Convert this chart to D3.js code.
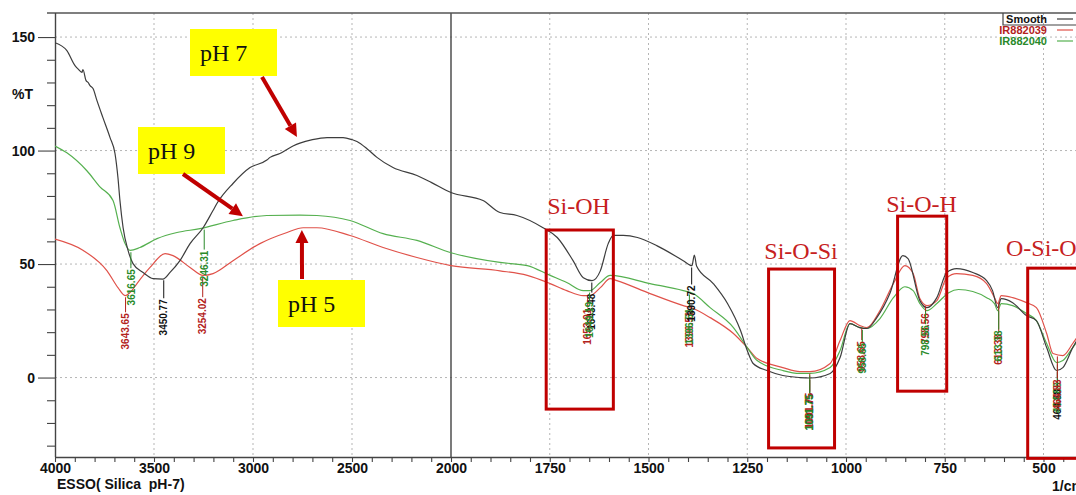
<!DOCTYPE html>
<html><head><meta charset="utf-8">
<script src="https://cdn.jsdelivr.net/npm/d3@7"></script>
<style>
html,body{margin:0;padding:0;background:#fff;}
svg{display:block;}
</style></head><body>
<svg id="chart" width="1076" height="495"></svg>
<script>
// ---------------- DATA ----------------
const seriesNames = ["Smooth", "IR882039", "IR882040"];

// pH 7 (black, "Smooth") : [wavenumber, %T]
const smoothData = [
  [4000,147.5],[3940,144],[3899,137.4],[3884,136],[3864,134.4],[3859,135.7],[3843,130.8],[3833,130],
  [3823,128.6],[3808,127.3],[3788,122],[3758,114.5],[3722,105.7],[3697,98.7],[3682,88],[3672,78],
  [3656,66],[3631,56],[3606,50.2],[3555,46.3],[3505,43.6],[3455,43.4],[3419,46.3],[3369,51.5],
  [3318,59],[3252,66],[3202,73.6],[3180,77],[3101,85.5],[3015,92.5],[2930,95.8],[2914,97],
  [2864,98.7],[2798,102],[2763,103.3],[2700,104.8],[2626,105.7],[2545,105.7],[2500,104.8],
  [2475,104],[2420,100.5],[2374,97],[2293,92.5],[2172,89],[2100,86],[2000,81.5],
  [1919,78],[1876,72.7],[1833,71.4],[1767,66],[1731,61.7],[1691,51.5],[1665,44],[1643,42.7],
  [1622,47],[1602,59],[1589,62.6],[1564,62.6],[1528,61.7],[1478,58],[1412,51.5],[1390,49.3],
  [1384,54],[1378,49],[1336,41.4],[1300,32.6],[1267,20.7],[1250,11.9],[1235,6.2],[1200,3.1],
  [1160,0.9],[1117,0],[1091,-0.2],[1040,1.8],[1015,8.8],[990,23.8],[965,22],[947,21.6],
  [922,26.4],[889,37],[856,53.7],[843,52.4],[813,33.9],[795,30.8],[770,35.2],[745,46.3],
  [720,48],[679,46.3],[644,42.7],[629,38.3],[616,30.8],[607,34.8],[578,33],[543,27.3],
  [518,25.1],[492,13.2],[467,3.1],[451,4.4],[426,13.2],[410,18]
];

// pH 5 (red, IR882039)
const ir882039Data = [
  [4000,61],[3857,56],[3737,47],[3682,39.6],[3646,36.1],[3615,38],[3586,41.4],[3520,48.5],
  [3444,54.6],[3404,53.7],[3318,48.5],[3252,45],[3202,45.8],[3101,51.5],[2965,59],[2828,63.9],
  [2747,66],[2677,66],[2510,62.6],[2343,57.3],[2172,52.9],[2000,49.3],[1876,47],[1807,45],
  [1749,41.4],[1707,38.3],[1665,36.1],[1648,36.1],[1622,39.6],[1597,43.6],[1580,42.7],
  [1496,37],[1412,31.7],[1387,30.4],[1344,26.4],[1285,19.4],[1250,13.2],[1225,8.4],
  [1160,4.4],[1117,2.6],[1091,2.6],[1040,6.2],[1015,16.3],[990,25.1],[965,22.9],[947,22],
  [914,29.5],[880,41.4],[851,49.3],[830,45.8],[813,34.8],[795,31.7],[770,33.9],[745,44],
  [720,45.8],[679,45],[644,41.4],[624,35.2],[616,32.6],[607,36.1],[578,35.2],[543,33],
  [518,30.8],[492,19.4],[476,10.6],[451,9.7],[426,15],[410,19]
];

// pH 9 (green, IR882040)
const ir882040Data = [
  [4000,102],[3940,99],[3838,91],[3773,84],[3707,78],[3672,66],[3646,59],[3620,56],
  [3571,57.3],[3485,61.2],[3384,63.9],[3268,65.6],[3101,69.2],[2930,71.4],[2763,71.6],
  [2677,71.4],[2510,69.2],[2343,63.4],[2172,60.4],[2000,55],[1876,50.7],[1807,49.3],
  [1749,45],[1707,41.9],[1665,38.3],[1648,38.3],[1622,41.9],[1597,45],[1496,41.4],
  [1412,38.3],[1387,37],[1344,30.8],[1285,22],[1250,13.2],[1225,7.5],[1160,3.1],[1117,1.8],
  [1091,1.8],[1040,4.4],[1015,11.9],[990,23.8],[965,22],[947,21.6],[914,26],[880,35.2],
  [851,40],[830,38.3],[813,32.6],[795,29.5],[770,32.6],[740,37.4],[715,38.8],[679,37.9],
  [644,35.2],[624,32.6],[616,29.5],[607,32.6],[578,31.7],[543,28.2],[518,25.1],[492,15],
  [467,6.6],[451,7.5],[426,13.2],[410,17]
];

const xMajorTicks = [4000,3500,3000,2500,2000,1750,1500,1250,1000,750,500];
const xMinorLeft = d3.range(4000, 1999, -100);
const xMinorRight = d3.range(2000, 399, -50);
const yMajorTicks = [0,50,100,150];
const yMinorTicks = d3.range(-30, 151, 10);

// peak labels: wavenumber, series, label text
const peaks = [
  {wn:3643.65, s:"IR882039", label:"3643.65"},
  {wn:3616.65, s:"IR882040", label:"3616.65"},
  {wn:3450.77, s:"Smooth",   label:"3450.77"},
  {wn:3254.02, s:"IR882039", label:"3254.02"},
  {wn:3246.31, s:"IR882040", label:"3246.31"},
  {wn:1643.48, s:"Smooth",   label:"1643.48"},
  {wn:1653.91, s:"IR882039", label:"1653.91"},
  {wn:1649.19, s:"IR882040", label:"1649.19"},
  {wn:1396.51, s:"IR882039", label:"1396.51"},
  {wn:1396.51, s:"IR882040", label:"1396.51"},
  {wn:1390.72, s:"Smooth",   label:"1390.72"},
  {wn:1091.75, s:"Smooth",   label:"1091.75"},
  {wn:1091.75, s:"IR882039", label:"1091.75"},
  {wn:1091.75, s:"IR882040", label:"1091.75"},
  {wn:960.1,   s:"IR882039", label:"958.65"},
  {wn:958.65,  s:"IR882040", label:"958.65"},
  {wn:798.56,  s:"IR882039", label:"798.56"},
  {wn:798.56,  s:"IR882040", label:"798.56"},
  {wn:613.38,  s:"IR882039", label:"613.38"},
  {wn:613.38,  s:"IR882040", label:"613.38"},
  {wn:464.88,  s:"Smooth",   label:"464.88"},
  {wn:464.88,  s:"IR882040", label:"464.88"},
  {wn:464.88,  s:"IR882039", label:"464.83"}
];
// gap (px) between curve and top of each peak label (layout)
const peakDrop = [17,18,20,22,22,12,12,10,3,15,19,15,20,20,14,14,8,15,32,21,18,19,24];

// band regions [wn from, wn to, %T top, %T bottom]
const regions = [
  {name:"Si-OH",   wn:[1759,1589], t:[65,-13.9]},
  {name:"Si-O-Si", wn:[1196,1029], t:[47.8,-31]},
  {name:"Si-O-H",  wn:[869.4,745], t:[71.1,-6]},
  {name:"O-Si-O",  wn:[540,393],   t:[48.2,-35.6]}
];

// pH annotation targets [wn, %T]
const phLabels = ["pH 7","pH 9","pH 5"];
const phTargets = [[2778,106],[3051,71.1],[2753,65]];

// ---------------- STYLE / LAYOUT ----------------
const colors = {"Smooth":"#3d3d3d","IR882039":"#e0524a","IR882040":"#55b04f"};
const labelColors = {"Smooth":"#111","IR882039":"#b3221c","IR882040":"#2a8a2a"};
const darkRed = "#c00000";
const W = 1076, H = 495;
const L = 55, T = 13, B = 457;

const svg = d3.select("#chart");
const x = d3.scaleLinear().domain([4000,2000,400]).range([L,451,1083]);
const y = d3.scaleLinear().domain([-35,160.6]).range([B,T]);

// clip
svg.append("defs").append("clipPath").attr("id","plotclip")
  .append("rect").attr("x",L).attr("y",T).attr("width",W-L).attr("height",B-T);

// grid
const grid = svg.append("g");
xMajorTicks.filter(v=>v!==4000 && v!==2000).forEach(v=>{
  grid.append("line").attr("x1",x(v)).attr("x2",x(v)).attr("y1",T).attr("y2",B)
    .attr("stroke","#b5b5b5").attr("stroke-width",1).attr("stroke-dasharray","2,3");
});
yMajorTicks.forEach(v=>{
  grid.append("line").attr("x1",L).attr("x2",W).attr("y1",y(v)).attr("y2",y(v))
    .attr("stroke","#b5b5b5").attr("stroke-width",1).attr("stroke-dasharray","2,3");
});
// solid break line at 2000
grid.append("line").attr("x1",x(2000)).attr("x2",x(2000)).attr("y1",T).attr("y2",B)
  .attr("stroke","#333").attr("stroke-width",1.3);

// top border
svg.append("line").attr("x1",47).attr("x2",W).attr("y1",T).attr("y2",T)
  .attr("stroke","#555").attr("stroke-width",1.5);

// axes
const fmtX = v => xMajorTicks.includes(v) ? String(v) : "";
const xTickVals = Array.from(new Set(xMinorLeft.concat(xMinorRight)));
const xAxis = d3.axisBottom(x).tickValues(xTickVals).tickSize(5).tickPadding(1).tickFormat(fmtX);
const gx = svg.append("g").attr("transform",`translate(0,${B})`).call(xAxis);
gx.select(".domain").attr("d",`M${L},0.5H${W}`).attr("stroke","#444").attr("stroke-width",1.4);
gx.selectAll(".tick line").attr("stroke","#444").attr("stroke-width",1.1);
gx.selectAll(".tick text").attr("font-family","Liberation Sans, Arial, sans-serif")
  .attr("font-size",14).attr("font-weight","bold").attr("fill","#111");

const fmtY = v => yMajorTicks.includes(v) ? String(v) : "";
const yAxis = d3.axisLeft(y).tickValues(yMinorTicks).tickSize(8).tickPadding(12).tickFormat(fmtY);
const gy = svg.append("g").attr("transform",`translate(${L},0)`).call(yAxis);
gy.select(".domain").attr("d",`M0.5,${T}V${B}`).attr("stroke","#444").attr("stroke-width",1.4);
gy.selectAll(".tick line").attr("stroke","#444").attr("stroke-width",1.1)
  .attr("x2", d => yMajorTicks.includes(d) ? -17 : -8);
gy.selectAll(".tick text").attr("font-family","Liberation Sans, Arial, sans-serif")
  .attr("font-size",14).attr("font-weight","bold").attr("fill","#111").attr("x",-20);

svg.append("text").attr("x",12).attr("y",99).text("%T")
  .attr("font-family","Liberation Sans, Arial, sans-serif").attr("font-size",14)
  .attr("font-weight","bold").attr("fill","#111");
svg.append("text").attr("x",57).attr("y",489).attr("xml:space","preserve")
  .style("white-space","pre").text("ESSO( Silica  pH-7)")
  .attr("font-family","Liberation Sans, Arial, sans-serif").attr("font-size",14)
  .attr("font-weight","bold").attr("fill","#111");
svg.append("text").attr("x",1052).attr("y",491).text("1/cm")
  .attr("font-family","Liberation Sans, Arial, sans-serif").attr("font-size",14)
  .attr("font-weight","bold").attr("fill","#111");

// curves
const dataBySeries = {"Smooth":smoothData,"IR882039":ir882039Data,"IR882040":ir882040Data};
const line = d3.line().x(d=>x(d[0])).y(d=>y(d[1])).curve(d3.curveMonotoneX);
const curves = svg.append("g").attr("clip-path","url(#plotclip)");
["IR882039","IR882040","Smooth"].forEach(s=>{
  curves.append("path").datum(dataBySeries[s]).attr("d",line)
    .attr("fill","none").attr("stroke",colors[s]).attr("stroke-width",1.2);
});

function valueAt(s, wn){
  const d = dataBySeries[s];
  for(let i=0;i<d.length-1;i++){
    if(d[i][0]>=wn && d[i+1][0]<=wn){
      const t=(d[i][0]-wn)/(d[i][0]-d[i+1][0]);
      return d[i][1]+t*(d[i+1][1]-d[i][1]);
    }
  }
  return d[d.length-1][1];
}

// peak labels
const pk = svg.append("g");
peaks.forEach((p,i)=>{
  const px = x(p.wn);
  const cy = y(valueAt(p.s,p.wn));
  const top = cy + peakDrop[i];
  pk.append("line").attr("x1",px).attr("x2",px).attr("y1",cy+2).attr("y2",top)
    .attr("stroke",labelColors[p.s]).attr("stroke-width",1);
  pk.append("text").attr("transform",`translate(${px},${top+1}) rotate(-90)`)
    .attr("text-anchor","end").attr("dy","0.36em")
    .attr("font-family","Liberation Sans, Arial, sans-serif").attr("font-size",10)
    .attr("font-weight","bold").attr("fill",labelColors[p.s]).text(p.label);
});

// region rectangles & labels
const regionLabelX = [578.5, 801, 921.5, 1006];
const regionLabelGap = [16, 10, 4, 12];
const rg = svg.append("g");
regions.forEach((r,i)=>{
  const x0=x(r.wn[0]), x1=x(r.wn[1]), y0=y(r.t[0]), y1=y(r.t[1]);
  rg.append("rect").attr("x",x0).attr("y",y0).attr("width",x1-x0).attr("height",y1-y0)
    .attr("fill","none").attr("stroke",darkRed).attr("stroke-width",3);
  rg.append("text").attr("x",regionLabelX[i]).attr("y",y0-regionLabelGap[i])
    .attr("text-anchor", i===3 ? "start" : "middle")
    .attr("font-family","Liberation Serif, Times New Roman, serif").attr("font-size",24)
    .attr("fill","#c62020").text(r.name);
});

// pH boxes and arrows
const phBoxes = [{x:190,y:29},{x:138,y:127},{x:278,y:280}];
const arrowFrom = [[262,77],[183,174],[302,279]];
const ann = svg.append("g");
phLabels.forEach((lab,i)=>{
  const b = phBoxes[i];
  ann.append("rect").attr("x",b.x).attr("y",b.y).attr("width",87).attr("height",47)
    .attr("fill","#ffff00");
  ann.append("text").attr("x",b.x+10).attr("y",b.y+32)
    .attr("font-family","Liberation Serif, Times New Roman, serif").attr("font-size",24)
    .attr("fill","#111").text(lab);
  const [x1,y1] = arrowFrom[i];
  const x2 = x(phTargets[i][0]), y2 = y(phTargets[i][1]);
  const ang = Math.atan2(y2-y1, x2-x1);
  const hl = 13, hw = 6.5;
  const bx = x2 - hl*Math.cos(ang), by = y2 - hl*Math.sin(ang);
  ann.append("line").attr("x1",x1).attr("y1",y1).attr("x2",bx).attr("y2",by)
    .attr("stroke",darkRed).attr("stroke-width",4);
  const px = -Math.sin(ang), py = Math.cos(ang);
  ann.append("path")
    .attr("d",`M${x2},${y2}L${bx+hw*px},${by+hw*py}L${bx-hw*px},${by-hw*py}Z`)
    .attr("fill",darkRed);
});

// legend
const lg = svg.append("g");
lg.append("path").attr("d",`M1003,${T}V25H${W}`).attr("fill","none")
  .attr("stroke","#444").attr("stroke-width",1.2);
const lgY = [23,34,45];
seriesNames.forEach((s,i)=>{
  lg.append("text").attr("x",1047).attr("y",lgY[i]).attr("text-anchor","end")
    .attr("font-family","Liberation Sans, Arial, sans-serif").attr("font-size",11)
    .attr("font-weight","bold").attr("fill", s==="Smooth" ? "#111" : labelColors[s]).text(s);
  lg.append("line").attr("x1",1057).attr("x2",1073).attr("y1",lgY[i]-4).attr("y2",lgY[i]-4)
    .attr("stroke",colors[s]).attr("stroke-width",1.2);
});
</script>
</body></html>
